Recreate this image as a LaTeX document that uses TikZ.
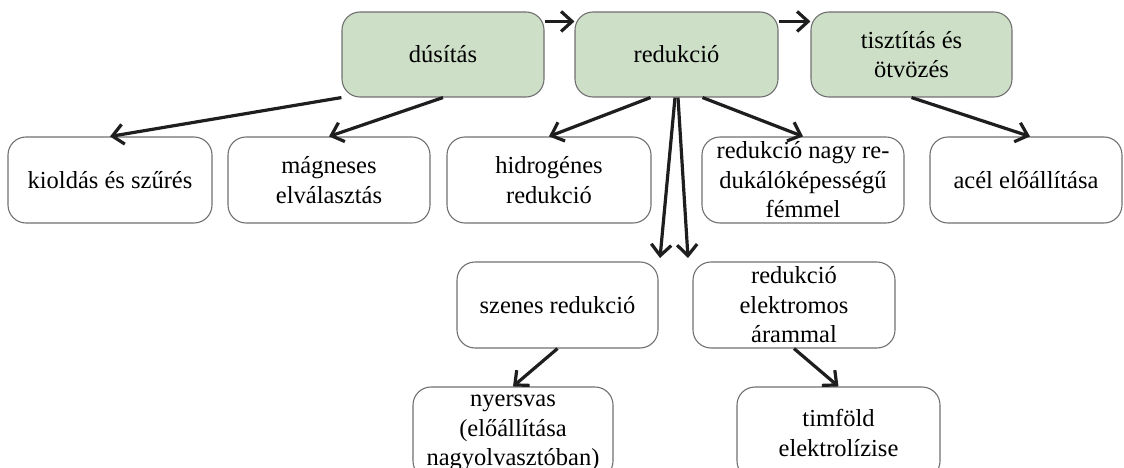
\documentclass[tikz,border=0pt]{standalone}
\usepackage{fontspec}
\setmainfont{Liberation Serif}
\usetikzlibrary{arrows.meta,calc}
\definecolor{boxgreen}{RGB}{205,223,199}
\definecolor{boxline}{RGB}{112,112,112}
\definecolor{arrowc}{RGB}{30,30,30}
\tikzset{
  box/.style={draw=boxline, line width=1.1pt, rounded corners=18pt, minimum height=86pt,
    inner sep=0pt, align=center, font=\fontsize{24.5}{29.5}\selectfont},
  greenbox/.style={box, fill=boxgreen, minimum height=85pt},
  conn/.style={draw=arrowc, line width=3.2pt, -{Straight Barb[length=11pt,width=20pt]}},
}
\begin{document}
\begin{tikzpicture}[x=1pt,y=-1pt]
\useasboundingbox (0,0) rectangle (1124,468);
% top row
\node[greenbox, minimum width=202pt] (dus) at (443,54.5) {dúsítás};
\node[greenbox, minimum width=203pt] (red) at (676.5,54.5) {redukció};
\node[greenbox, minimum width=201pt] (tisz) at (911.5,54.5) {tisztítás és\\ötvözés};
% second row
\node[box, minimum width=204pt] (kiold) at (110,180) {kioldás és szűrés};
\node[box, minimum width=202pt] (magn) at (329,180) {mágneses\\elválasztás};
\node[box, minimum width=204pt] (hidr) at (549,180) {hidrogénes\\redukció};
\node[box, minimum width=202pt] (nagy) at (803,180) {redukció nagy re-\\dukálóképességű\\fémmel};
\node[box, minimum width=192pt] (acel) at (1026,180) {acél előállítása};
% third row
\node[box, minimum width=201pt] (szen) at (557.5,305) {szenes redukció};
\node[box, minimum width=202pt] (elek) at (794,305) {redukció\\elektromos\\árammal};
% fourth row (cut off by the lower edge)
\node[box, minimum width=200pt, minimum height=92pt] (nyers) at (513,433) {nyersvas\\(előállítása\\nagyolvasztóban)};
\node[box, minimum width=203pt, minimum height=92pt] (timf) at (838.5,433) {timföld\\elektrolízise};
% free ends
\coordinate (szt) at (660,258);
\coordinate (elt) at (688,258);
% connectors
\draw[conn] ($(dus.north east)+(0,10)$) -- ($(red.north west)+(0,10)$);
\draw[conn] ($(red.north east)+(0,10)$) -- ($(tisz.north west)+(0,10)$);
\draw[conn] (dus.south west) -- (kiold.north);
\draw[conn] (dus.south) -- (magn.north);
\draw[conn] ($(red.south)+(-26,0)$) -- (hidr.north);
\draw[conn] ($(red.south)+(26,0)$) -- (nagy.north);
\draw[conn] ($(red.south)+(-1.5,0)$) -- (szt);
\draw[conn] ($(red.south)+(1.5,0)$) -- (elt);
\draw[conn] (tisz.south) -- ($(acel.north)+(4,0)$);
\draw[conn] (szen.south) -- (nyers.north);
\draw[conn] (elek.south) -- (timf.north);
\end{tikzpicture}
\end{document}
